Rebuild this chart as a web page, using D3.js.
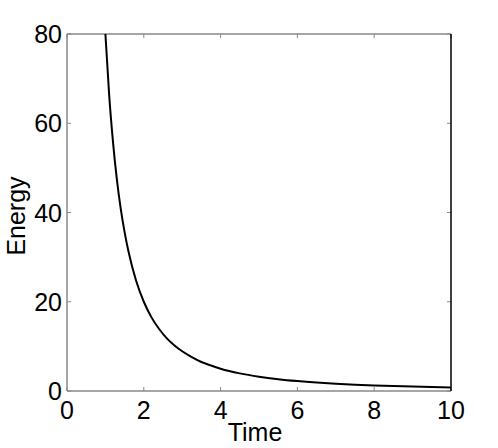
<!DOCTYPE html>
<html>
<head>
<meta charset="utf-8">
<script src="https://cdn.jsdelivr.net/npm/d3@7"></script>
<style>
  body { margin: 0; background: #fff; }
  text { font-family: "Liberation Sans", Arial, sans-serif; fill: #000; }
</style>
</head>
<body>
<svg id="chart" width="498" height="448"></svg>
<script>
// values
const times = [1, 1.1, 1.2, 1.3, 1.4, 1.5, 1.6, 1.8, 2, 2.2, 2.4, 2.6, 2.8, 3, 3.25, 3.5, 3.75, 4, 4.5, 5, 5.5, 6, 6.5, 7, 7.5, 8, 8.5, 9, 9.5, 10];
const energy = [80, 66.1, 55.6, 47.3, 40.8, 35.6, 31.3, 24.7, 20, 16.5, 13.9, 11.8, 10.2, 8.9, 7.6, 6.5, 5.7, 5.0, 3.95, 3.2, 2.64, 2.22, 1.89, 1.63, 1.42, 1.25, 1.11, 0.99, 0.89, 0.8];
const xTicks = [0, 2, 4, 6, 8, 10];
const yTicks = [0, 20, 40, 60, 80];

const plotL = 67, plotT = 34, plotR = 451, plotB = 391;
const axisGray = '#888';
const fontSize = 25;
const svg = d3.select('#chart');

const x = d3.scaleLinear().domain([0, 10]).range([plotL, plotR]);
const y = d3.scaleLinear().domain([0, 80]).range([plotB, plotT]);

// box frame
svg.append('line').attr('x1', plotL).attr('x2', plotR).attr('y1', plotT).attr('y2', plotT)
    .attr('stroke', axisGray).attr('stroke-width', 1.5);
svg.append('line').attr('x1', plotL).attr('x2', plotR).attr('y1', plotB).attr('y2', plotB)
    .attr('stroke', axisGray).attr('stroke-width', 1.5);
svg.append('line').attr('x1', plotL).attr('x2', plotL).attr('y1', plotT).attr('y2', plotB)
    .attr('stroke', axisGray).attr('stroke-width', 1.5);

// inward ticks on all four sides
const tickLen = 4;
const ticks = svg.append('g').attr('stroke', axisGray).attr('stroke-width', 1);
xTicks.forEach(t => {
    ticks.append('line').attr('x1', x(t)).attr('x2', x(t)).attr('y1', plotB).attr('y2', plotB - tickLen);
    ticks.append('line').attr('x1', x(t)).attr('x2', x(t)).attr('y1', plotT).attr('y2', plotT + tickLen);
});
yTicks.forEach(v => {
    ticks.append('line').attr('x1', plotL).attr('x2', plotL + tickLen).attr('y1', y(v)).attr('y2', y(v));
    ticks.append('line').attr('x1', plotR).attr('x2', plotR - tickLen).attr('y1', y(v)).attr('y2', y(v));
});

// tick labels
svg.append('g').selectAll('text')
    .data(xTicks)
    .enter()
    .append('text')
    .attr('x', d => x(d))
    .attr('y', 419)
    .attr('text-anchor', 'middle')
    .attr('font-size', fontSize)
    .text(d => d);

svg.append('g').selectAll('text')
    .data(yTicks)
    .enter()
    .append('text')
    .attr('x', 62)
    .attr('y', d => y(d) + 9)
    .attr('text-anchor', 'end')
    .attr('font-size', fontSize)
    .text(d => d);

// axis titles
svg.append('text')
    .attr('x', 255)
    .attr('y', 441)
    .attr('text-anchor', 'middle')
    .attr('font-size', fontSize)
    .text('Time');

svg.append('text')
    .attr('transform', 'translate(25,216) rotate(-90)')
    .attr('text-anchor', 'middle')
    .attr('font-size', fontSize)
    .text('Energy');

// curve
const line = d3.line()
    .x((d, i) => x(times[i]))
    .y(d => y(d))
    .curve(d3.curveMonotoneX);

svg.append('path')
    .datum(energy)
    .attr('d', line)
    .attr('fill', 'none')
    .attr('stroke', '#000')
    .attr('stroke-width', 2);

// right edge drawn dark
svg.append('line').attr('x1', plotR).attr('x2', plotR).attr('y1', plotT).attr('y2', plotB)
    .attr('stroke', '#000').attr('stroke-width', 1.5);
</script>
</body>
</html>
